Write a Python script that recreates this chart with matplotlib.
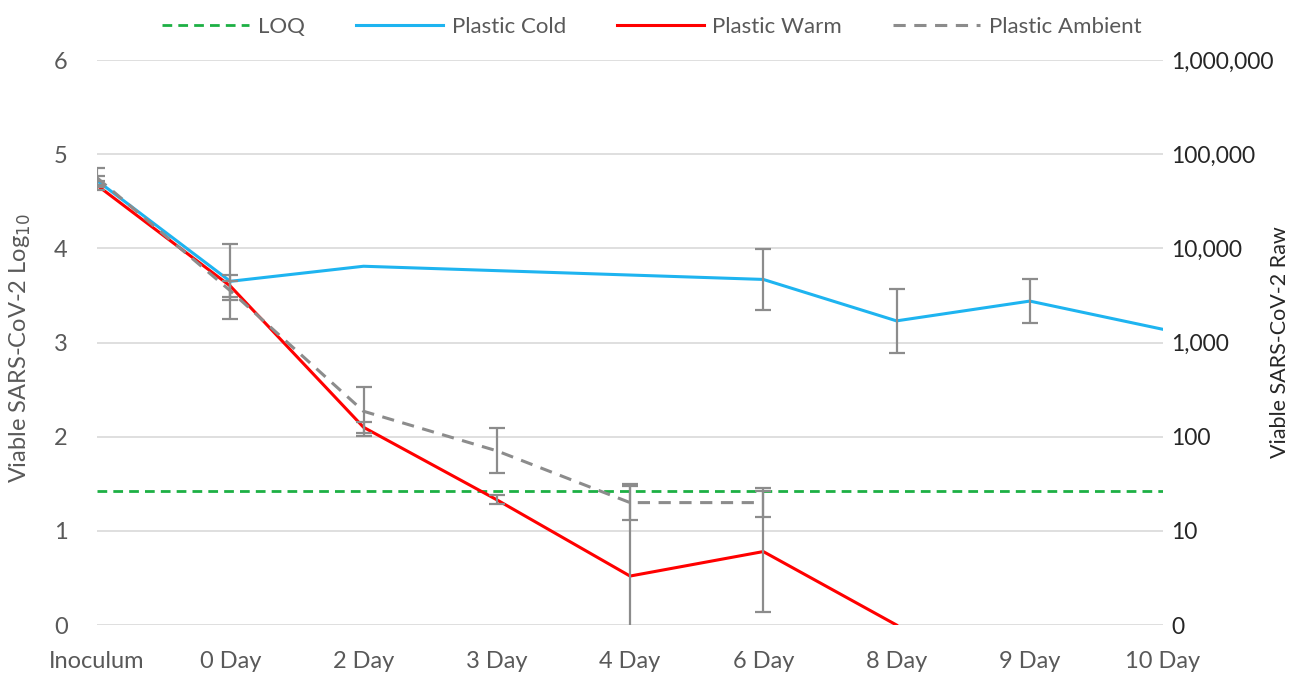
import numpy as np
import matplotlib
matplotlib.use("Agg")
import matplotlib.pyplot as plt

# ---- data ----
categories = ["Inoculum", "0 Day", "2 Day", "3 Day", "4 Day", "6 Day", "8 Day", "9 Day", "10 Day"]
nan = np.nan

cold = [4.72, 3.65, 3.81, nan, nan, 3.67, 3.23, 3.44, 3.14]
cold_err = [0.05, 0.40, nan, nan, nan, 0.32, 0.34, 0.23, nan]

warm = [4.67, 3.60, 2.10, 1.33, 0.52, 0.78, 0.00, nan, nan]
warm_err = [0.05, 0.12, 0.06, 0.05, 0.98, 0.64, nan, nan, nan]

ambient = [4.75, 3.55, 2.27, 1.85, 1.30, 1.30, nan, nan, nan]
ambient_err = [0.10, 0.10, 0.26, 0.24, 0.18, 0.15, nan, nan, nan]

loq = 1.42

left_ticks = [0, 1, 2, 3, 4, 5, 6]
right_labels = ["0", "10", "100", "1,000", "10,000", "100,000", "1,000,000"]

# ---- styling ----
plt.rcParams['font.family'] = ['Lato', 'DejaVu Sans']
TXT = "#595959"
DARK = "#262626"
BLUE = "#1EB4F0"
RED = "#FF0000"
GRAY = "#8C8C8C"
GREEN = "#1DB044"
ERR = "#8C8C8C"

fig = plt.figure(figsize=(13.04, 6.79), dpi=100)
ax = fig.add_axes([0.0744, 0.0795, 0.8175, 0.8321])

x = np.arange(len(categories))


def plot_series(vals, errs, color, ls, label, lw):
    vals = np.array(vals, dtype=float)
    errs = np.array(errs, dtype=float)
    ok = ~np.isnan(vals)
    line, = ax.plot(x[ok], vals[ok], color=color, linestyle=ls, lw=lw, label=label, zorder=3)
    ek = ok & ~np.isnan(errs)
    ax.errorbar(x[ek], vals[ek], yerr=errs[ek], fmt='none', ecolor=ERR,
                elinewidth=1.6, capsize=5.5, capthick=1.6, zorder=4)
    return line


ax.axhline(loq, color=GREEN, ls=(0, (3.5, 2.2)), lw=2.0, label="LOQ", zorder=2)
plot_series(cold, cold_err, BLUE, '-', "Plastic Cold", 2.2)
plot_series(warm, warm_err, RED, '-', "Plastic Warm", 2.2)
plot_series(ambient, ambient_err, GRAY, (0, (4, 2.8)), "Plastic Ambient", 2.2)

ax.set_xlim(0, len(categories) - 1)
ax.set_ylim(0, 6)
ax.set_yticks(left_ticks)
ax.set_xticks(x)
ax.set_xticklabels(categories)
ax.grid(axis='y', color="#D9D9D9", lw=1.2, zorder=0)
for s in ax.spines.values():
    s.set_visible(False)
ax.tick_params(axis='both', length=0, colors=TXT)
ax.tick_params(axis='x', pad=19, labelsize=17)
ax.tick_params(axis='y', pad=21, labelsize=17)
ax.set_ylabel("Viable SARS-CoV-2 Log$_{10}$", fontsize=17, color=TXT)
ax.yaxis.set_label_coords(-0.060, 0.49)

ax2 = ax.twinx()
ax2.set_ylim(0, 6)
ax2.set_yticks(left_ticks)
ax2.set_yticklabels(right_labels)
for s in ax2.spines.values():
    s.set_visible(False)
ax2.tick_params(axis='y', length=0, labelsize=16.5, colors=DARK, pad=6)
ax2.set_ylabel("Viable SARS-CoV-2 Raw", fontsize=15.5, color=DARK)
ax2.yaxis.set_label_coords(1.100, 0.5)

h, l = ax.get_legend_handles_labels()
fig.legend(h, l, loc='upper center', bbox_to_anchor=(0.5, 1.005), ncol=4, frameon=False,
           fontsize=16, handlelength=3.9, columnspacing=2.3, labelcolor=TXT, handletextpad=0.4)

fig.savefig("out.png", dpi=100)
